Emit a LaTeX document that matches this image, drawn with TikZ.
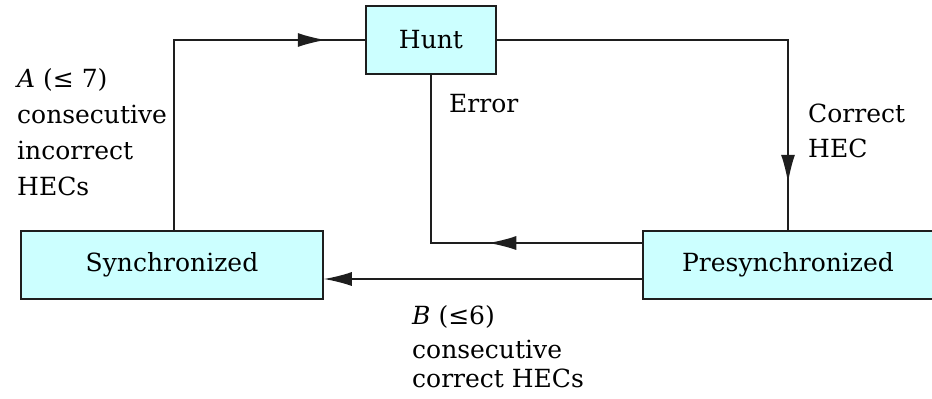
\documentclass[tikz,border=0pt]{standalone}
\usepackage{fontspec}
\setmainfont{DejaVu Serif}
\usetikzlibrary{arrows.meta,decorations.markings}
\definecolor{boxcyan}{RGB}{204,255,255}
\definecolor{linegray}{RGB}{30,30,30}
\begin{document}
\begin{tikzpicture}[x=1pt,y=-1pt,
  state/.style={draw=linegray, fill=boxcyan, line width=1.5pt, minimum height=68pt, inner sep=0pt, font=\fontsize{25}{30}\selectfont},
  conn/.style={line width=1.5pt, draw=linegray},
  lab/.style={align=left, anchor=base west, inner sep=0pt, font=\fontsize{25}{36}\selectfont},
  marrow/.style={postaction={decorate, decoration={markings, mark=at position #1 with {\arrow{Latex[length=28pt,width=14pt]}}}}}]
\useasboundingbox (0,0) rectangle (932,399);
\node[state, minimum width=130pt] (hunt) at (431,40) {Hunt};
\node[state, minimum width=302pt] (sync) at (172,265) {Synchronized};
\node[state, minimum width=290pt] (pre) at (788,265) {Presynchronized};
% connectors
\draw[conn, marrow=342pt] ([xshift=2]sync.north) |- (hunt.west);
\draw[conn, marrow=434pt] (hunt.east) -| (pre.north);
\draw[conn, marrow=154pt] ([yshift=22]pre.west) -| (hunt.south);
\draw[conn, -{Latex[length=28pt,width=14pt]}] ([yshift=-14]pre.west) -- ([yshift=-14]sync.east);
% labels
\node[lab] (la) at (17,195) {{\itshape A} (≤ 7)\\consecutive\\incorrect\\HECs};
\node[lab] (le) at (449,112) {Error};
\node[lab, font=\fontsize{25}{35}\selectfont] (lc) at (808,157) {Correct\\HEC};
\node[lab, font=\fontsize{25}{34}\selectfont] (lb) at (412,387) {{\itshape B} (≤6)\\consecutive\\[-5pt]correct HECs};
\end{tikzpicture}
\end{document}
